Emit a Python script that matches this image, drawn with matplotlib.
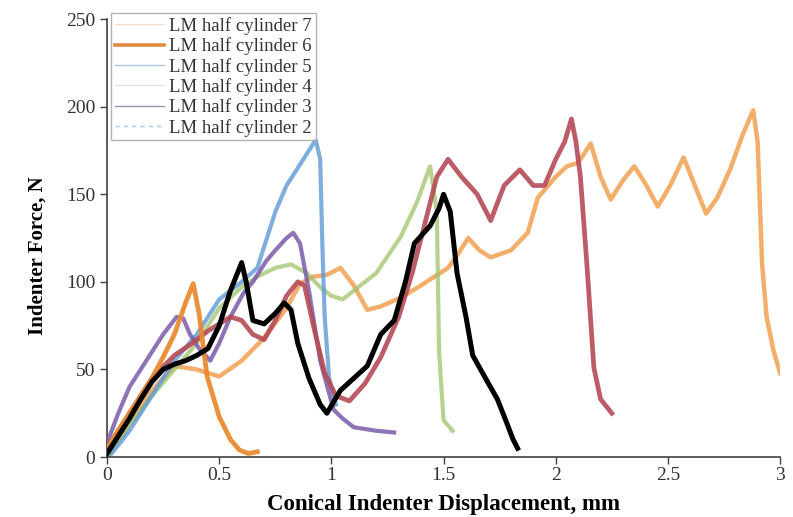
import matplotlib
matplotlib.use("Agg")
import matplotlib.pyplot as plt
from matplotlib.lines import Line2D

plt.rcParams['font.family'] = ['Liberation Serif', 'DejaVu Serif']

# ---- data ----
black_x = [0, 0.05, 0.1, 0.15, 0.2, 0.25, 0.3, 0.35, 0.4, 0.45, 0.5, 0.55, 0.6, 0.62, 0.65, 0.7,
           0.75, 0.79, 0.82, 0.85, 0.9, 0.95, 0.98, 1.04, 1.1, 1.16, 1.22, 1.28, 1.33, 1.37, 1.44,
           1.48, 1.5, 1.53, 1.56, 1.6, 1.63, 1.7, 1.74, 1.78, 1.81, 1.83]
black_y = [2, 12, 22, 33, 43, 50, 53, 55, 58, 62, 75, 95, 111, 100, 78, 76,
           82, 88, 84, 65, 45, 30, 25, 38, 45, 52, 70, 78, 100, 122, 132,
           142, 150, 140, 105, 80, 58, 42, 33, 20, 10, 5]

red_x = [0, 0.1, 0.2, 0.3, 0.38, 0.45, 0.55, 0.6, 0.65, 0.7, 0.75, 0.8, 0.85, 0.88, 0.92, 0.97,
         1.02, 1.08, 1.15, 1.22, 1.3, 1.36, 1.42, 1.47, 1.52, 1.58, 1.65, 1.71, 1.77, 1.84, 1.9,
         1.95, 2.0, 2.04, 2.07, 2.09, 2.11, 2.14, 2.17, 2.2, 2.25]
red_y = [5, 25, 45, 58, 65, 72, 80, 78, 70, 67, 78, 92, 100, 98, 75, 48,
         35, 32, 42, 57, 80, 105, 135, 160, 170, 160, 150, 135, 155, 164, 155,
         155, 170, 180, 193, 180, 160, 108, 51, 33, 25]

orange7_x = [0, 0.1, 0.2, 0.3, 0.4, 0.5, 0.6, 0.7, 0.8, 0.86, 0.92, 0.98, 1.04, 1.1, 1.16, 1.22,
             1.31, 1.4, 1.52, 1.56, 1.61, 1.66, 1.71, 1.8, 1.875, 1.92, 2.0, 2.05, 2.1, 2.156,
             2.2, 2.245, 2.3, 2.35, 2.4, 2.455, 2.51, 2.57, 2.62, 2.67, 2.72, 2.78, 2.83, 2.88,
             2.9, 2.92, 2.94, 2.97, 3.0]
orange7_y = [0, 20, 38, 52, 50, 46, 55, 68, 85, 99, 103, 104, 108, 98, 84, 86,
             91, 98, 108, 115, 125, 118, 114, 118, 128, 148, 160, 166, 168, 179,
             160, 147, 158, 166, 156, 143, 155, 171, 155, 139, 148, 165, 183, 198,
             180, 110, 80, 61, 48]

orange6_x = [0, 0.05, 0.1, 0.15, 0.2, 0.25, 0.3, 0.35, 0.384, 0.41, 0.446, 0.5, 0.55, 0.59, 0.63, 0.67]
orange6_y = [5, 15, 25, 35, 45, 57, 70, 88, 99, 82, 46, 23, 10, 4, 2, 3]

blue_x = [0.02, 0.058, 0.1, 0.2, 0.3, 0.4, 0.5, 0.6, 0.67, 0.75, 0.8, 0.85, 0.9, 0.93, 0.95,
          0.96, 0.97, 0.99, 1.02]
blue_y = [2, 8, 15, 35, 55, 70, 90, 100, 108, 140, 155, 165, 175, 181, 170,
          120, 80, 45, 30]

green_x = [0, 0.1, 0.2, 0.3, 0.4, 0.5, 0.6, 0.67, 0.75, 0.82, 0.89, 0.95, 1.0, 1.05, 1.1,
           1.2, 1.31, 1.38, 1.44, 1.47, 1.48, 1.5, 1.54]
green_y = [0, 18, 35, 50, 65, 85, 97, 103, 108, 110, 105, 97, 92, 90, 95,
           105, 126, 145, 166, 140, 60, 21, 15]

purple_x = [0, 0.05, 0.1, 0.15, 0.2, 0.25, 0.31, 0.34, 0.37, 0.41, 0.46, 0.5, 0.55, 0.61,
            0.65, 0.71, 0.75, 0.8, 0.83, 0.86, 0.9, 0.95, 1.01, 1.05, 1.1, 1.2, 1.28]
purple_y = [8, 25, 40, 50, 60, 70, 80, 79, 70, 62, 55, 65, 80, 94,
            100, 112, 118, 125, 128, 122, 95, 55, 27, 22, 17, 15, 14]

legend_labels = ["LM half cylinder 7", "LM half cylinder 6", "LM half cylinder 5",
                 "LM half cylinder 4", "LM half cylinder 3", "LM half cylinder 2"]

x_ticks = [0, 0.5, 1, 1.5, 2, 2.5, 3]
x_tick_labels = ["0", "0.5", "1", "1.5", "2", "2.5", "3"]
y_ticks = [0, 50, 100, 150, 200, 250]

# ---- figure ----
fig = plt.figure(figsize=(7.93, 5.17), dpi=100)
ax = fig.add_axes([0.135, 0.116, 0.8487, 0.847])

ax.plot(orange7_x, orange7_y, color='#f0a050', lw=3.2, alpha=0.85, zorder=2)
ax.plot(green_x, green_y, color='#9fc46a', lw=3.0, alpha=0.75, zorder=2)
ax.plot(blue_x, blue_y, color='#5f9ad6', lw=3.0, alpha=0.8, zorder=2)
ax.plot(purple_x, purple_y, color='#7a5aaa', lw=3.0, alpha=0.85, zorder=3)
ax.plot(red_x, red_y, color='#b44a55', lw=3.4, alpha=0.9, zorder=3)
ax.plot(orange6_x, orange6_y, color='#ea8a30', lw=3.4, alpha=0.95, zorder=4)
ax.plot(black_x, black_y, color='#000000', lw=3.6, zorder=5)

ax.set_xlim(0, 3)
ax.set_ylim(0, 250)
ax.set_xticks(x_ticks)
ax.set_xticklabels(x_tick_labels)
ax.set_yticks(y_ticks)
ax.tick_params(axis='both', direction='out', length=5, width=1, labelsize=14, colors='#404040',
               labelcolor='#333333')
ax.tick_params(axis='x', pad=2)
ax.spines['top'].set_visible(False)
ax.spines['right'].set_visible(False)
ax.spines['left'].set_color('#404040')
ax.spines['bottom'].set_color('#404040')
ax.spines['left'].set_linewidth(1.2)
ax.spines['bottom'].set_linewidth(1.2)

ax.set_xlabel("Conical Indenter Displacement, mm", fontsize=16.5, fontweight='bold')
ax.xaxis.set_label_coords(0.5, -0.085)
ax.set_ylabel("Indenter Force, N", fontsize=15, fontweight='bold')
ax.yaxis.set_label_coords(-0.088, 0.46)

handles = [
    Line2D([], [], color='#f3dcc4', lw=1.0),
    Line2D([], [], color='#e08a40', lw=2.6),
    Line2D([], [], color='#a9c9ea', lw=1.0),
    Line2D([], [], color='#e4e4e4', lw=1.0),
    Line2D([], [], color='#9f90b8', lw=1.0),
    Line2D([], [], color='#a9c9ea', lw=1.0, ls=(0, (3, 3))),
]
leg = ax.legend(handles, legend_labels, loc='upper left', bbox_to_anchor=(0.006, 1.013),
                fontsize=13.5, frameon=True, fancybox=False, edgecolor='#a0a0a0',
                labelspacing=0.13, handlelength=2.6, handletextpad=0.3, borderpad=0.2,
                borderaxespad=0)
leg.get_frame().set_linewidth(1.0)
for t in leg.get_texts():
    t.set_color('#333333')

fig.savefig("out.png", dpi=100)
